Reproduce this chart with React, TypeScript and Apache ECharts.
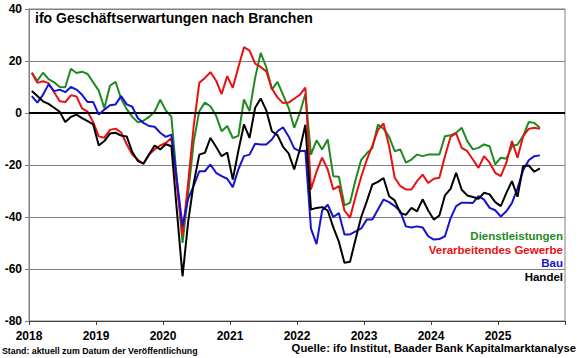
import React, { useEffect, useRef } from "react";
import * as echarts from "echarts";

// ifo Geschäftserwartungen (Salden), monatlich Jan 2018 – Aug 2025
const dienstleistungen = [
  15.5, 12.4, 15.5, 13, 11.8, 10, 9.9, 17, 15.4, 15.9, 15, 11.8,
  8.6, 1.8, 10.5, 12, 5.5, 1.5, -1.5, -3.6, -3, -1.5, 0.5, 5.1,
  1, -1.4, -26, -50, -31, -11, 0.7, 4, 2.6, -1, -7, -5,
  -9.6, -8.8, 5.2, 0.7, 13.5, 23.1, 17.6, 9, 12, 7, 2, -5.7,
  0, 7.3, -16, -10.5, -14, -10.2, -24.3, -24.5, -35.5, -34.5, -25.6, -18,
  -15.5, -13.5, -4.4, -6, -9.2, -14.7, -14, -19.1, -17.9, -16, -16.6, -16,
  -16, -16, -8.9, -8.6, -7.6, -5.7, -10.8, -14, -13.4, -12.1, -12.8, -19.8,
  -17.2, -17.6, -12.8, -12.1, -8.9, -3.5, -3.8, -5.7,
];
const verarbeitendesGewerbe = [
  15.5, 11.6, 12.2, 11.5, 8, 4.5, 4.2, 6.8, 6.4, 1.8, 0.5, -3.5,
  -9, -9.5, -6.5, -6, -7.5, -12, -16, -18, -19.5, -16, -14, -12.5,
  -11.5, -9.6, -28, -47, -27, -5, 11.6, 13.5, 15.7, 12.5, 7.3, 14.2,
  9.7, 17.6, 25.3, 24, 19, 17.7, 16, 9.4, 6, 3.8, 4, 5.5,
  7, 9.8, -29.4, -22.5, -17.2, -21.7, -29.4, -28.1, -37.5, -40.3, -32, -24.5,
  -18, -12.5, -6.5, -4, -12.8, -24.9, -28.1, -29.4, -29.4, -26.2, -23.7, -26.9,
  -25.3, -24.9, -16.6, -9.2, -7.8, -13.4, -14.7, -17.9, -21.1, -16.6, -19.1, -23,
  -24.3, -19.1, -10.8, -17.2, -8.9, -6.1, -5.7, -6.1,
];
const bau = [
  6.5, 4, 7, 11, 8.4, 9, 8, 10, 9, 7, 4.2, 4.2,
  -0.6, 1.3, 3, 3.3, 6.5, 3.3, 2.4, -2, -3.8, -5, -5.3, -7.6,
  -9.2, -8.3, -26, -43.5, -33, -28, -22.4, -22.4, -19.8, -23, -24.3, -25.3,
  -28.5, -21.7, -16.6, -16, -11.8, -12.1, -12.1, -10.2, -7, -5.5, -9, -13.6,
  -14.7, -14.5, -44.5, -50.4, -37.5, -35.3, -40, -38.5, -46.7, -46.7, -45.5, -44.4,
  -41, -41, -37.1, -33.3, -34.3, -35.8, -37.8, -43.6, -44, -43.6, -44, -47.4,
  -48.7, -48.5, -47.4, -40.5, -35.8, -34.5, -34.5, -34.6, -32, -33.3, -36.5, -37.4,
  -39.8, -37.8, -34.6, -29, -22, -18.2, -16.6, -16.3,
];
const handel = [
  8.5, 6.5, 4.5, 3.5, 2, 0.5, -3.5, -1.5, -0.6, -2, -3.1, -4.4,
  -12.5, -10.8, -7.9, -7.6, -8.7, -9, -15, -18.5, -19.5, -16, -12.5, -14,
  -12, -12.8, -38, -62.8, -42, -27, -16, -15.3, -9.6, -13, -16.6, -15.2,
  -25.6, -14.5, -4.4, -9.6, 2, 5.6, 1, -7, -8.5, -13, -15.5, -21.7,
  -14, -4.5, -37.1, -36.5, -36.2, -37.5, -44, -49.5, -57.6, -57.2, -48.5, -40,
  -34, -27.5, -26.5, -25, -32, -33.6, -38.4, -39.2, -36.5, -37.8, -33.2, -37.5,
  -41, -39.4, -31.7, -29.2, -23, -29.5, -31.7, -32.3, -33, -30.7, -31.3, -34.3,
  -35.8, -30.7, -26.2, -32.2, -20.4, -20.2, -22.6, -21.3,
];
const yearLabels = ["2018", "2019", "2020", "2021", "2022", "2023", "2024", "2025"];

const seriesNames = ["Dienstleistungen", "Verarbeitendes Gewerbe", "Bau", "Handel"];
const seriesColors = ["#1f8a1f", "#e81010", "#1414cc", "#000000"];
const seriesData = [dienstleistungen, verarbeitendesGewerbe, bau, handel];

const FONT = '"Liberation Sans", Arial, sans-serif';

export default function App() {
  const ref = useRef<HTMLDivElement>(null);
  useEffect(() => {
    if (!ref.current) return;
    const chart = echarts.init(ref.current, undefined, { renderer: "svg" });
    const series: any[] = seriesData.map((arr, k) => ({
      name: seriesNames[k],
      type: "line",
      showSymbol: false,
      symbol: "none",
      data: arr.map((v, i) => [i + 0.5, v]),
      lineStyle: { color: seriesColors[k], width: 2 },
      itemStyle: { color: seriesColors[k] },
      z: 3 + k,
    }));
    series[0].markLine = {
      silent: true,
      symbol: ["none", "none"],
      label: { show: false },
      lineStyle: { color: "#000", width: 2, type: "solid" },
      data: [{ yAxis: 0 }],
    };
    const legendY = [236, 249.6, 263.2, 276.8];
    const graphics: any[] = [
      {
        type: "text",
        left: 35,
        top: 11,
        style: {
          text: "ifo Geschäftserwartungen nach Branchen",
          font: `bold 14px ${FONT}`,
          fill: "#000",
        },
      },
      ...seriesNames.map((n, k) => ({
        type: "text",
        x: 563,
        y: legendY[k],
        style: {
          text: n,
          font: `bold 11.5px ${FONT}`,
          fill: seriesColors[k],
          align: "right",
          verticalAlign: "middle",
          textAlign: "right",
          textVerticalAlign: "middle",
        },
      })),
      {
        type: "text",
        x: 2,
        y: 351,
        style: {
          text: "Stand: aktuell zum Datum der Veröffentlichung",
          font: `bold 8.8px ${FONT}`,
          fill: "#000",
          verticalAlign: "middle",
          textVerticalAlign: "middle",
        },
      },
      {
        type: "text",
        x: 576,
        y: 348,
        style: {
          text: "Quelle: ifo Institut, Baader Bank Kapitalmarktanalyse",
          font: `bold 11.3px ${FONT}`,
          fill: "#000",
          align: "right",
          verticalAlign: "middle",
          textAlign: "right",
          textVerticalAlign: "middle",
        },
      },
    ];
    chart.setOption({
      animation: false,
      backgroundColor: "#fff",
      textStyle: { fontFamily: FONT },
      grid: {
        left: 29,
        right: 15,
        top: 9,
        bottom: 37,
        show: true,
        borderColor: "#808080",
        borderWidth: 1,
      },
      xAxis: {
        type: "value",
        min: 0,
        max: 96,
        interval: 12,
        axisLine: { show: true, onZero: false, lineStyle: { color: "#404040", width: 1 } },
        axisTick: { show: true, length: 4, lineStyle: { color: "#404040" } },
        splitLine: { show: false },
        axisLabel: {
          formatter: (v: number) => yearLabels[Math.round(v / 12)] ?? "",
          color: "#000",
          fontWeight: "bold",
          fontSize: 12,
          fontFamily: FONT,
          margin: 9,
        },
      },
      yAxis: {
        type: "value",
        min: -80,
        max: 40,
        interval: 20,
        axisLine: { show: true, lineStyle: { color: "#808080" } },
        axisTick: { show: true, length: 4, lineStyle: { color: "#808080" } },
        splitLine: { show: true, lineStyle: { color: "#808080", width: 1 } },
        axisLabel: {
          color: "#000",
          fontWeight: "bold",
          fontSize: 12,
          fontFamily: FONT,
          margin: 7,
        },
      },
      graphic: graphics,
      series,
    });
    return () => chart.dispose();
  }, []);
  return (
    <div
      ref={ref}
      style={{ position: "absolute", left: 0, top: 0, width: 580, height: 358 }}
    />
  );
}
